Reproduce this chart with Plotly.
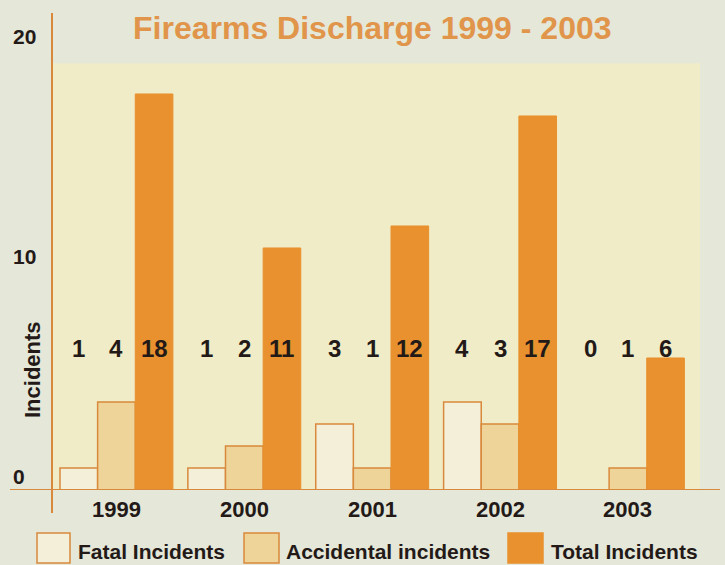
import plotly.graph_objects as go

years = ["1999", "2000", "2001", "2002", "2003"]
fatal = [1, 1, 3, 4, 0]
accidental = [4, 2, 1, 3, 1]
total = [18, 11, 12, 17, 6]
series_names = ["Fatal Incidents", "Accidental incidents", "Total Incidents"]
y_ticks = [0, 10, 20]
y_tick_labels = ["0", "10", "20"]

title_text = "Firearms Discharge 1999 - 2003"
y_title = "Incidents"

C_FATAL = "#F4EFD8"
C_ACC = "#EFD49A"
C_TOTAL = "#E8912E"
C_LINE = "#D8893B"
C_TEXT = "#231A18"
FONT = "Liberation Sans, Arial, sans-serif"

xpos = list(range(len(years)))
bargap = 0.117
bw = (1 - bargap) / 3

W, Hh = 725, 565
ml, mr, mt, mb = 52, 5, 13, 75
pw, ph = W - ml - mr, Hh - mt - mb
def px2paper_x(px):
    return (px - ml) / pw
def px2paper_y(py):
    return (Hh - mb - py) / ph

fig = go.Figure()
fig.add_trace(go.Bar(x=xpos, y=fatal, name=series_names[0],
                     marker=dict(color=C_FATAL, line=dict(color=C_LINE, width=1.5))))
fig.add_trace(go.Bar(x=xpos, y=accidental, name=series_names[1],
                     marker=dict(color=C_ACC, line=dict(color=C_LINE, width=1.5))))
fig.add_trace(go.Bar(x=xpos, y=total, name=series_names[2],
                     marker=dict(color=C_TOTAL, line=dict(color=C_TOTAL, width=1))))

annotations = []
label_y = 6.45
for i in range(len(years)):
    for k, vals in enumerate([fatal, accidental, total]):
        annotations.append(dict(x=i + (k - 1) * bw, y=label_y, xref="x", yref="y",
                                xanchor="center", yanchor="middle",
                                text="<b>%s</b>" % vals[i], showarrow=False,
                                font=dict(family=FONT, size=24, color=C_TEXT)))
    annotations.append(dict(x=i, y=0, xref="x", yref="y", yshift=-19,
                            xanchor="center", yanchor="middle",
                            text="<b>%s</b>" % years[i], showarrow=False,
                            font=dict(family=FONT, size=22, color=C_TEXT)))

for v, t in zip(y_ticks, y_tick_labels):
    annotations.append(dict(x=px2paper_x(11), y=v, xref="paper", yref="y", xanchor="left",
                            yanchor="bottom", text="<b>%s</b>" % t, showarrow=False,
                            font=dict(family=FONT, size=21, color=C_TEXT)))

annotations.append(dict(x=px2paper_x(32), y=px2paper_y(370), xref="paper", yref="paper",
                        xanchor="center", yanchor="middle",
                        text="<b>%s</b>" % y_title,
                        textangle=-90, showarrow=False,
                        font=dict(family=FONT, size=22, color=C_TEXT)))

annotations.append(dict(x=px2paper_x(372), y=px2paper_y(28), xref="paper", yref="paper",
                        xanchor="center", yanchor="middle",
                        text="<b>%s</b>" % title_text, showarrow=False,
                        font=dict(family=FONT, size=32, color="#E0954A")))

# legend
leg = [(37, 70, C_FATAL, C_LINE, 76), (244, 279, C_ACC, C_LINE, 284), (508, 543, C_TOTAL, C_TOTAL, 549)]
shapes = []
for (x0, x1, fc, lc, tx), name in zip(leg, series_names):
    shapes.append(dict(type="rect", xref="paper", yref="paper",
                       x0=px2paper_x(x0), x1=px2paper_x(x1),
                       y0=px2paper_y(563), y1=px2paper_y(533),
                       fillcolor=fc, line=dict(color=lc, width=1.5)))
    annotations.append(dict(x=px2paper_x(tx), y=px2paper_y(551), xref="paper", yref="paper",
                            xanchor="left", yanchor="middle", text="<b>%s</b>" % name,
                            showarrow=False, font=dict(family=FONT, size=21, color=C_TEXT)))

# plot area background panel
shapes.append(dict(type="rect", xref="paper", yref="y", x0=0, x1=px2paper_x(700), y0=0, y1=19.4,
                   fillcolor="#F1ECC8", line=dict(width=0), layer="below"))
# axis extensions
shapes.append(dict(type="line", xref="paper", yref="y", x0=px2paper_x(10), x1=1, y0=0, y1=0,
                   line=dict(color=C_LINE, width=2)))
shapes.append(dict(type="line", xref="paper", yref="paper", x0=0, x1=0,
                   y0=px2paper_y(513), y1=1, line=dict(color=C_LINE, width=2)))

fig.update_layout(
    width=W, height=Hh,
    margin=dict(l=ml, r=mr, t=mt, b=mb),
    paper_bgcolor="#E5E7D9",
    plot_bgcolor="#E5E7D9",
    barmode="group", bargap=bargap, bargroupgap=0,
    showlegend=False,
    xaxis=dict(range=[-0.504, 4.72], showticklabels=False, showgrid=False, zeroline=False,
               showline=False, ticks=""),
    yaxis=dict(range=[0, 21.68], tickvals=y_ticks, showticklabels=False, showgrid=False,
               zeroline=False, showline=False, ticks=""),
    annotations=annotations,
    shapes=shapes,
    font=dict(family=FONT),
)

fig.write_html("out.html", config={"displayModeBar": False},
               post_script="document.body.style.margin='0';")
